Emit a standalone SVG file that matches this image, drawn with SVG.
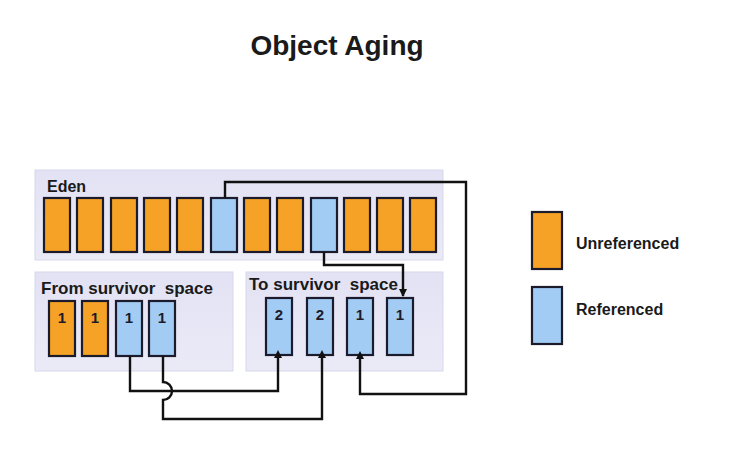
<svg xmlns="http://www.w3.org/2000/svg" width="754" height="462" viewBox="0 0 754 462">
<style>
.t{font-family:"Liberation Sans",Arial,sans-serif;font-weight:bold;fill:#1a1a1a}
.panel{fill:url(#pg);stroke:#d8d8ec;stroke-width:1}
.o{fill:#F5A226;stroke:#1b1b2b;stroke-width:2.2}
.b{fill:#A3CCF5;stroke:#1b1b2b;stroke-width:2.2}
.n{font-family:"Liberation Sans",Arial,sans-serif;font-weight:bold;font-size:15px;fill:#1b1b2b;text-anchor:middle}
.c{fill:none;stroke:#111;stroke-width:2.4}
</style>
<defs>
<linearGradient id="pg" x1="0" y1="0" x2="0" y2="1">
<stop offset="0" stop-color="#E2E2F4"/>
<stop offset="1" stop-color="#EAEAF7"/>
</linearGradient>
<marker id="ah" markerWidth="8" markerHeight="8" refX="4" refY="7" markerUnits="userSpaceOnUse" viewBox="0 0 8 8">
<path d="M0,8 L4,0 L8,8 Z" fill="#111"/>
</marker>
<marker id="ad" markerWidth="8" markerHeight="8" refX="4" refY="7" markerUnits="userSpaceOnUse" viewBox="0 0 8 8">
<path d="M0,0 L8,0 L4,8 Z" fill="#111"/>
</marker>
</defs>
<rect width="754" height="462" fill="#ffffff"/>
<text class="t" x="337" y="55" font-size="28" text-anchor="middle">Object Aging</text>

<g id="eden">
<rect class="panel" x="35" y="170" width="408" height="90"/>
<text class="t" x="47" y="192" font-size="16">Eden</text>
<rect class="o" x="44" y="198" width="26" height="54"/>
<rect class="o" x="77" y="198" width="26" height="54"/>
<rect class="o" x="111" y="198" width="26" height="54"/>
<rect class="o" x="144" y="198" width="26" height="54"/>
<rect class="o" x="177" y="198" width="26" height="54"/>
<rect class="b" x="211" y="198" width="26" height="54"/>
<rect class="o" x="244" y="198" width="26" height="54"/>
<rect class="o" x="277" y="198" width="26" height="54"/>
<rect class="b" x="311" y="198" width="26" height="54"/>
<rect class="o" x="344" y="198" width="26" height="54"/>
<rect class="o" x="377" y="198" width="26" height="54"/>
<rect class="o" x="410" y="198" width="26" height="54"/>
</g>

<g id="from-survivor">
<rect class="panel" x="35" y="272" width="198" height="99"/>
<text class="t" x="41" y="294" font-size="17" xml:space="preserve">From survivor  space</text>
<rect class="o" x="49" y="301" width="26" height="55"/>
<rect class="o" x="82" y="301" width="26" height="55"/>
<rect class="b" x="116" y="301" width="26" height="55"/>
<rect class="b" x="149" y="301" width="26" height="55"/>
<text class="n" x="62" y="323">1</text>
<text class="n" x="95" y="323">1</text>
<text class="n" x="129" y="323">1</text>
<text class="n" x="162" y="323">1</text>
</g>

<g id="to-survivor">
<rect class="panel" x="246" y="272" width="197" height="99"/>
<text class="t" x="249" y="290" font-size="17" xml:space="preserve">To survivor  space</text>
<rect class="b" x="266" y="298" width="26" height="57"/>
<rect class="b" x="307" y="298" width="26" height="57"/>
<rect class="b" x="347" y="298" width="26" height="57"/>
<rect class="b" x="387" y="298" width="26" height="57"/>
<text class="n" x="279" y="320">2</text>
<text class="n" x="320" y="320">2</text>
<text class="n" x="360" y="320">1</text>
<text class="n" x="400" y="320">1</text>
</g>

<g id="connectors">
<path class="c" d="M225,198 V182 H466 V394 H360 V358" marker-end="url(#ah)"/>
<path class="c" d="M324,252 V265 H403 V296" marker-end="url(#ad)"/>
<path class="c" d="M130,356 V391 H278 V357" marker-end="url(#ah)"/>
<path class="c" d="M163,356 V382 A9,9 0 0 1 163,400 V419 H322 V357" marker-end="url(#ah)"/>
</g>

<g id="legend-unreferenced">
<rect class="o" x="532" y="212" width="30" height="57"/>
<text class="t" x="576" y="249" font-size="16">Unreferenced</text>
</g>
<g id="legend-referenced">
<rect class="b" x="532" y="287" width="30" height="57"/>
<text class="t" x="576" y="315" font-size="16">Referenced</text>
</g>
</svg>
